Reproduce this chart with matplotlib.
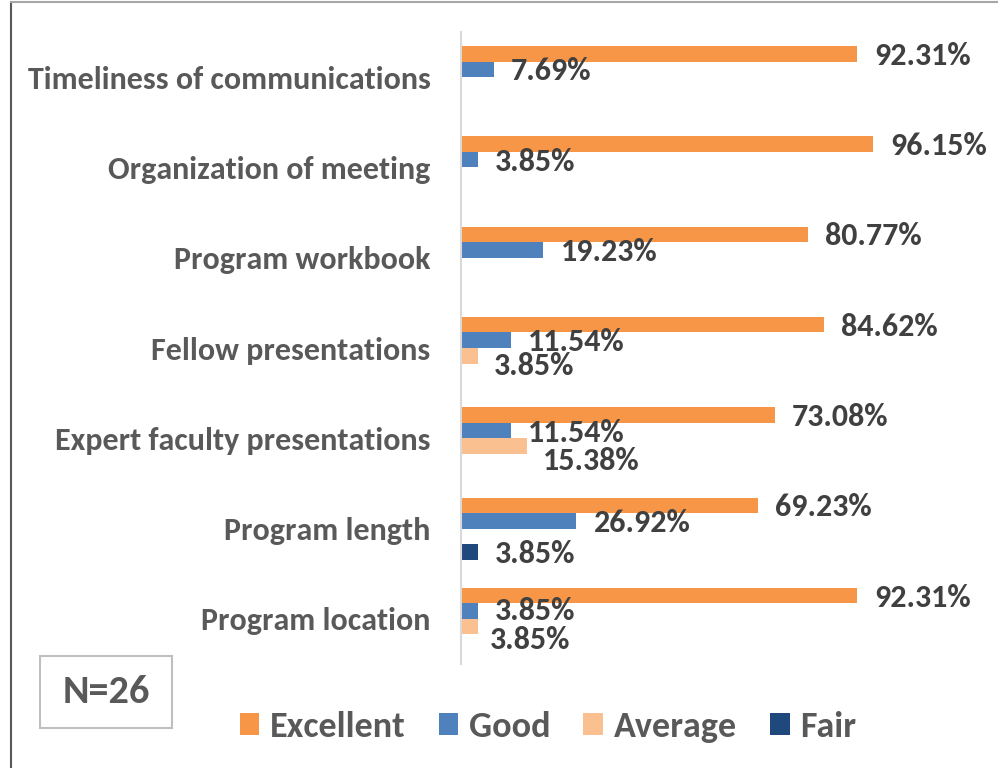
import matplotlib
matplotlib.use("Agg")
import matplotlib.pyplot as plt
from matplotlib.patches import Patch, Rectangle
from matplotlib.lines import Line2D
import numpy as np

categories = ["Timeliness of communications", "Organization of meeting", "Program workbook",
              "Fellow presentations", "Expert faculty presentations", "Program length",
              "Program location"]
series_names = ["Excellent", "Good", "Average", "Fair"]
excellent = [92.31, 96.15, 80.77, 84.62, 73.08, 69.23, 92.31]
good = [7.69, 3.85, 19.23, 11.54, 11.54, 26.92, 3.85]
average = [0, 0, 0, 3.85, 15.38, 0, 3.85]
fair = [0, 0, 0, 0, 0, 3.85, 0]
sample_note = "N=26"

colors = ["#F79646", "#4F81BD", "#FAC090", "#1F497D"]
FONT = ["Carlito", "Lato", "DejaVu Sans"]
W, H = 998, 768

fig = plt.figure(figsize=(W / 100, H / 100), dpi=100)
ax_left, ax_right, ax_top, ax_bot = 461, 990, 32, 664
ax = fig.add_axes([ax_left / W, 1 - ax_bot / H, (ax_right - ax_left) / W, (ax_bot - ax_top) / H])

px_per_unit = 4.29
ax.set_xlim(0, (ax_right - ax_left) / px_per_unit)
n = len(categories)
ax.set_ylim(n - 0.5, -0.5)

bar_h = 0.172
offsets = [-1.5, -0.5, 0.5, 1.5]
all_series = [excellent, good, average, fair]
y = np.arange(n)

# label nudges (pixels; dy positive = down)
nudge = {(3, 2): (16, 10), (4, 2): (16, 15), (6, 1): (17, 0), (6, 2): (12, 13)}

for s, (vals, col) in enumerate(zip(all_series, colors)):
    ys = y + offsets[s] * bar_h
    ax.barh(ys, vals, height=bar_h, color=col, edgecolor="none", label=series_names[s])
    for i, v in enumerate(vals):
        if v <= 0:
            continue
        dx, dy = nudge.get((i, s), (17, 2))
        ax.annotate(f"{v:.2f}%", xy=(v, ys[i]), xytext=(dx, -dy), textcoords="offset pixels",
                    ha="left", va="center", fontsize=23, fontweight="bold",
                    color="#404040", family=FONT)

ax.set_yticks(y)
ax.set_yticklabels(categories, fontsize=23, fontweight="bold", color="#595959", family=FONT)
ax.tick_params(axis="y", length=0, pad=22)
ax.set_xticks([])
for sp in ["top", "right", "bottom"]:
    ax.spines[sp].set_visible(False)
ax.spines["left"].set_color("#D9D9D9")
ax.spines["left"].set_linewidth(1.5)

handles = [Patch(facecolor=c, edgecolor="none") for c in colors]
leg = fig.legend(handles, series_names, loc="center", bbox_to_anchor=(548 / W, 1 - 727 / H),
                 ncol=4, frameon=False, handlelength=0.55, handleheight=0.55,
                 handletextpad=0.3, columnspacing=0.9,
                 prop={"family": FONT, "weight": "bold", "size": 26})
for t in leg.get_texts():
    t.set_color("#595959")

# N box
fig.add_artist(Rectangle((40 / W, 1 - 728 / H), 132 / W, 72 / H, transform=fig.transFigure,
                         facecolor="white", edgecolor="#BFBFBF", linewidth=1.5))
fig.text(106 / W, 1 - 692 / H, sample_note, ha="center", va="center", fontsize=29,
         fontweight="bold", color="#595959", family=FONT)

# chart border (partial)
fig.add_artist(Line2D([11 / W, 11 / W], [0, 1 - 2 / H], transform=fig.transFigure,
                      color="#595959", linewidth=1.5))
fig.add_artist(Line2D([11 / W, 1], [1 - 2 / H, 1 - 2 / H], transform=fig.transFigure,
                      color="#A6A6A6", linewidth=1.5))

fig.savefig("out.png", dpi=100)
